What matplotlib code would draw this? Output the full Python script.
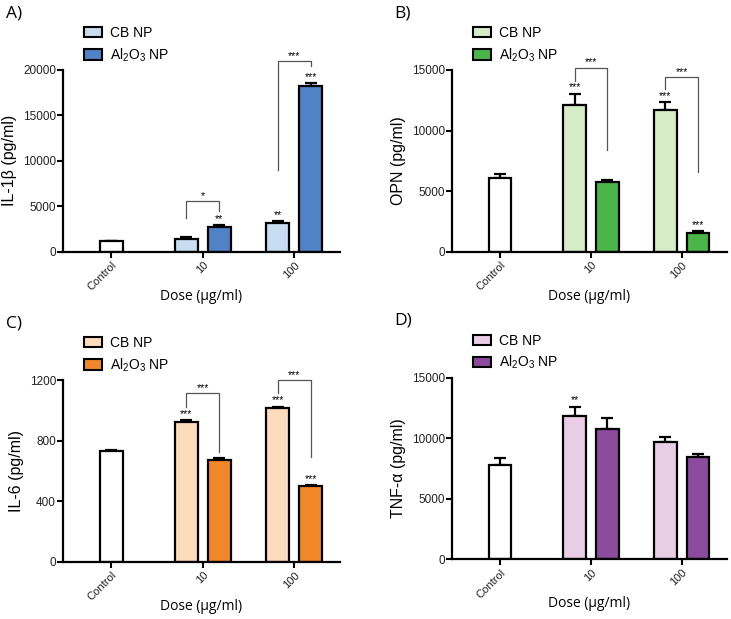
import matplotlib
matplotlib.use("Agg")
import matplotlib.pyplot as plt
from matplotlib.patches import Patch
import numpy as np

plt.rcParams['font.family'] = ['Liberation Sans', 'DejaVu Sans']
plt.rcParams['mathtext.fontset'] = 'custom'
plt.rcParams['mathtext.rm'] = 'Liberation Sans'

doses = ["Control", "10", "100"]
series = ["CB NP", "Al$_2$O$_3$ NP"]

# values: [control, CB10, Al10, CB100, Al100]
il1b = [1210, 1390, 2680, 3190, 18240]
il1b_err = [0, 180, 220, 150, 290]
opn = [6110, 12110, 5780, 11670, 1510]
opn_err = [330, 940, 110, 690, 190]
il6 = [731, 925, 674, 1017, 500]
il6_err = [7, 8, 11, 7, 6]
tnf = [7820, 11840, 10730, 9690, 8420]
tnf_err = [520, 770, 910, 440, 250]

panels = [
    dict(label="A)", ylabel="IL-1\u03b2 (pg/ml)", vals=il1b, err=il1b_err,
         ymax=20000, yticks=[0, 5000, 10000, 15000, 20000],
         cb="#c6dcf0", al="#4f82c6",
         stars={2: "**", 3: "**", 4: "***"},
         brackets=[(1, 2, 5580, 3670, 4510, "*"), (3, 4, 21000, 9000, 20400, "***")],
         rect=(63, 70, 277, 181.7)),
    dict(label="B)", ylabel="OPN (pg/ml)", vals=opn, err=opn_err,
         ymax=15000, yticks=[0, 5000, 10000, 15000],
         cb="#d5ecc6", al="#4ab548",
         stars={1: "***", 3: "***", 4: "***"},
         brackets=[(1, 2, 15200, 14100, 8400, "***"), (3, 4, 14450, 13400, 6600, "***")],
         rect=(452, 70, 275, 181.7)),
    dict(label="C)", ylabel="IL-6 (pg/ml)", vals=il6, err=il6_err,
         ymax=1200, yticks=[0, 400, 800, 1200],
         cb="#fddcbd", al="#f2872a",
         stars={1: "***", 3: "***", 4: "***"},
         brackets=[(1, 2, 1112, 1020, 727, "***"), (3, 4, 1200, 1116, 693, "***")],
         rect=(63, 380, 277, 181.7)),
    dict(label="D)", ylabel="TNF-\u03b1 (pg/ml)", vals=tnf, err=tnf_err,
         ymax=15000, yticks=[0, 5000, 10000, 15000],
         cb="#e8cde4", al="#8c4b9c",
         stars={1: "**"},
         brackets=[],
         rect=(452, 377.7, 275, 181.6)),
]

W, H = 731, 619
fig = plt.figure(figsize=(W / 100, H / 100), dpi=100)

group_pos = np.arange(len(doses))
off, width = 0.18, 0.25
xpos = [group_pos[0], group_pos[1] - off, group_pos[1] + off, group_pos[2] - off, group_pos[2] + off]

for p in panels:
    l, t, w, h = p["rect"]
    ax = fig.add_axes([l / W, 1 - (t + h) / H, w / W, h / H])
    colors = ["white", p["cb"], p["al"], p["cb"], p["al"]]
    errs = [[0] * 5, p["err"]]
    ax.bar(xpos, p["vals"], width=width, color=colors, edgecolor="black",
           linewidth=1.6, zorder=2)
    ax.errorbar(xpos, p["vals"], yerr=errs, fmt="none", ecolor="black",
                elinewidth=1.6, capsize=4, capthick=1.6, zorder=1)
    ax.set_xlim(-0.53, 2.5)
    ax.set_ylim(0, p["ymax"])
    ax.set_yticks(p["yticks"])
    ax.set_xticks(group_pos)
    ax.set_xticklabels(doses, rotation=45, ha="right", rotation_mode="anchor",
                       fontsize=8, color="#222222")
    ax.tick_params(axis="y", labelsize=8.5, length=4, width=1.5, colors="black",
                   labelcolor="#222222", pad=1)
    ax.tick_params(axis="x", length=4, width=1.5, pad=2)
    for s in ["top", "right"]:
        ax.spines[s].set_visible(False)
    for s in ["left", "bottom"]:
        ax.spines[s].set_linewidth(1.6)
    ax.set_ylabel(p["ylabel"], fontsize=11.5, labelpad=4)
    ax.text(0.5, -0.245, "Dose (\u03bcg/ml)", transform=ax.transAxes, ha="center",
            va="center", fontsize=10, family=["Open Sans", "DejaVu Sans"])
    # stars over bars
    for i, s in p["stars"].items():
        ax.annotate(s, (xpos[i], p["vals"][i] + p["err"][i]), xytext=(0, 1),
                    textcoords="offset points", ha="center", va="bottom",
                    fontsize=7.5, annotation_clip=False)
    for (i, j, yh, yl, yr, s) in p["brackets"]:
        ax.plot([xpos[i], xpos[i], xpos[j], xpos[j]], [yl, yh, yh, yr],
                color="#555555", lw=0.9, clip_on=False, zorder=3)
        ax.text((xpos[i] + xpos[j]) / 2, yh, s, ha="center", va="bottom",
                fontsize=7.5)
    handles = [Patch(facecolor=p["cb"], edgecolor="black", linewidth=1.5),
               Patch(facecolor=p["al"], edgecolor="black", linewidth=1.5)]
    ax.legend(handles, series, loc="lower left", bbox_to_anchor=(0.075, 1.035),
              frameon=False, fontsize=10, handlelength=1.3, handleheight=0.8,
              handletextpad=0.6, labelspacing=0.45, borderpad=0, borderaxespad=0)
    fig.text((l - 49) / W, 1 - (t - 57) / H, p["label"], fontsize=12.5,
             ha="center", va="center", family=["Open Sans", "DejaVu Sans"])

fig.savefig("out.png", dpi=100)
